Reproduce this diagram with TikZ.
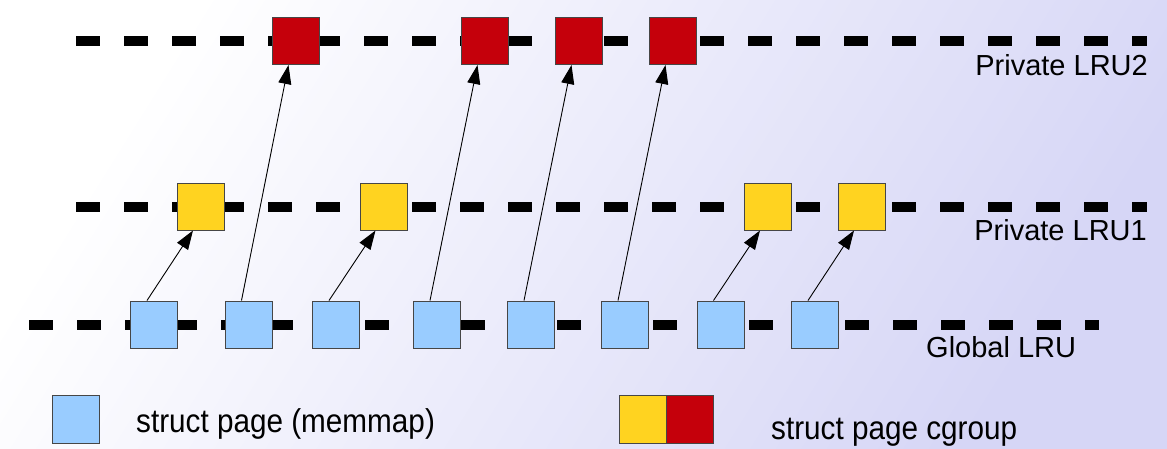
\documentclass[tikz,border=0pt]{standalone}
\usepackage{fontspec}
\setmainfont{Liberation Sans}
\usetikzlibrary{arrows.meta}
\definecolor{lav}{RGB}{214,214,246}
\definecolor{midlav}{RGB}{247,247,253}
\definecolor{pageblue}{RGB}{153,204,255}
\definecolor{pageyellow}{RGB}{255,211,32}
\definecolor{pagered}{RGB}{197,0,11}
\definecolor{boxborder}{RGB}{70,70,70}
\tikzset{
  lru/.style={line width=10pt, dash pattern=on 24pt off 24pt, line cap=butt},
  pagebox/.style={draw=boxborder, line width=1pt, minimum size=47pt, inner sep=0pt},
  bluebox/.style={pagebox, fill=pageblue},
  yellowbox/.style={pagebox, fill=pageyellow},
  redbox/.style={pagebox, fill=pagered},
  link/.style={line width=0.9pt, -{Triangle[length=19pt,width=13pt]}},
  lrulabel/.style={font=\fontsize{29}{34}\selectfont, inner sep=0pt},
  legendtext/.style={font=\fontsize{33}{38}\selectfont, inner sep=0pt}
}
\begin{document}
\begin{tikzpicture}[x=1pt,y=-1pt]
\useasboundingbox (0,0) rectangle (1167,448);
\shade[top color=white, middle color=midlav, bottom color=lav, shading angle=58] (0,0) rectangle (1167,448);

% LRU lines
\coordinate (l2a) at (76,41);   \coordinate (l2b) at (1147,41);
\coordinate (l1a) at (76,206.5); \coordinate (l1b) at (1147,206.5);
\coordinate (gla) at (29,325);  \coordinate (glb) at (1099,325);
\draw[lru] (l2a) -- (l2b);
\draw[lru] (l1a) -- (l1b);
\draw[lru] (gla) -- (glb);

% Private LRU2 (red)
\node[redbox] (r1) at (295.5,41) {};
\node[redbox] (r2) at (484.5,41) {};
\node[redbox] (r3) at (578.5,41) {};
\node[redbox] (r4) at (672.5,41) {};

% Private LRU1 (yellow)
\node[yellowbox] (y1) at (201,206.5) {};
\node[yellowbox] (y2) at (383.5,206.5) {};
\node[yellowbox] (y3) at (768,206.5) {};
\node[yellowbox] (y4) at (862,206.5) {};

% Global LRU (blue)
\node[bluebox] (b1) at (154,324.5) {};
\node[bluebox] (b2) at (248.5,324.5) {};
\node[bluebox] (b3) at (336,324.5) {};
\node[bluebox] (b4) at (437,324.5) {};
\node[bluebox] (b5) at (531,324.5) {};
\node[bluebox] (b6) at (625,324.5) {};
\node[bluebox] (b7) at (720.5,324.5) {};
\node[bluebox] (b8) at (815,324.5) {};

% connectors
\draw[link] ([xshift=-7pt]b1.north) -- ([xshift=-8pt]y1.south);
\draw[link] ([xshift=-7pt]b2.north) -- ([xshift=-7pt]r1.south);
\draw[link] ([xshift=-7pt]b3.north) -- ([xshift=-8pt]y2.south);
\draw[link] ([xshift=-7pt]b4.north) -- ([xshift=-7pt]r2.south);
\draw[link] ([xshift=-7pt]b5.north) -- ([xshift=-7pt]r3.south);
\draw[link] ([xshift=-7pt]b6.north) -- ([xshift=-7pt]r4.south);
\draw[link] ([xshift=-7pt]b7.north) -- ([xshift=-8pt]y3.south);
\draw[link] ([xshift=-7pt]b8.north) -- ([xshift=-8pt]y4.south);

% labels
\node[lrulabel, anchor=base east] (t2) at (1148,75) {Private LRU2};
\node[lrulabel, anchor=base east] (t1) at (1147,240) {Private LRU1};
\node[lrulabel, anchor=base west] (tg) at (926,357) {Global LRU};

% legend
\node[bluebox, minimum width=47pt, minimum height=48pt] (lb) at (75.5,419) {};
\node[legendtext, anchor=base west] (lbt) at (136,432) {\scalebox{0.9}[1]{struct page (memmap)}};
\node[yellowbox, minimum width=47pt, minimum height=48pt] (ly) at (643,419) {};
\node[redbox, minimum width=47pt, minimum height=48pt] (lr) at (690,419) {};
\node[legendtext, anchor=base west] (lct) at (771,439) {\scalebox{0.9}[1]{struct page cgroup}};
\end{tikzpicture}
\end{document}
